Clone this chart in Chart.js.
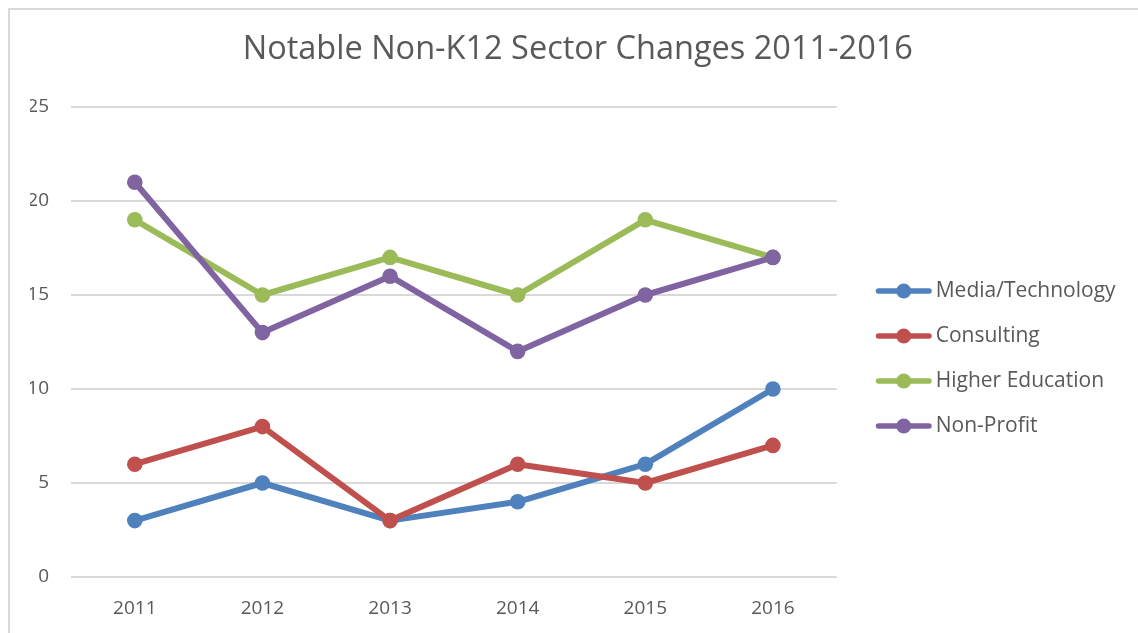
<!DOCTYPE html>
<html lang="en">
<head>
    <meta charset="UTF-8">
    <title>Notable Non-K12 Sector Changes 2011-2016</title>
    <script src="https://cdn.jsdelivr.net/npm/chart.js"></script>
    <style>
        html, body { margin: 0; padding: 0; background: #fff; }
        #frame { position: absolute; left: 8px; top: 8px; width: 1130px; height: 625px;
                 border-top: 2px solid #d9d9d9; border-left: 2px solid #d9d9d9; box-sizing: border-box; }
        #wrap { position: absolute; left: 0; top: 0; width: 1138px; height: 633px; }
    </style>
</head>
<body>
    <div id="frame"></div>
    <div id="wrap"><canvas id="grafico"></canvas></div>

    <script>
    // dados do gráfico
    const anos = ['2011', '2012', '2013', '2014', '2015', '2016'];
    const mediaTech = [3, 5, 3, 4, 6, 10];
    const consulting = [6, 8, 3, 6, 5, 7];
    const higherEd = [19, 15, 17, 15, 19, 17];
    const nonProfit = [21, 13, 16, 12, 15, 17];

    const nomes = ['Media/Technology', 'Consulting', 'Higher Education', 'Non-Profit'];
    const cores = ['#4f81bd', '#c0504d', '#9bbb59', '#8064a2'];
    const fonte = "'Open Sans', sans-serif";
    const corTexto = '#595959';

    // marcador da legenda: linha com bolinha no meio (deslocado p/ direita)
    function marcador(cor) {
        const c = document.createElement('canvas');
        c.width = 80; c.height = 18;
        const g = c.getContext('2d');
        g.strokeStyle = cor; g.lineWidth = 5.5; g.lineCap = 'round';
        g.beginPath(); g.moveTo(25.5, 9); g.lineTo(76, 9); g.stroke();
        g.fillStyle = cor;
        g.beginPath(); g.arc(50.75, 9, 7.5, 0, Math.PI * 2); g.fill();
        return c;
    }

    const series = [mediaTech, consulting, higherEd, nonProfit];
    const datasets = series.map((s, i) => ({
        label: nomes[i],
        data: s,
        borderColor: cores[i],
        backgroundColor: cores[i],
        borderWidth: 6,
        borderJoinStyle: 'round',
        borderCapStyle: 'round',
        pointRadius: 7.8,
        pointHoverRadius: 7.8,
        pointBorderWidth: 0,
        pointStyle: 'circle',
        order: 4 - i   // o último fica por cima, como no Excel
    }));

    const ctx = document.getElementById('grafico').getContext('2d');
    const chart = new Chart(ctx, {
        type: 'line',
        data: { labels: anos, datasets: datasets },
        options: {
            responsive: true,
            maintainAspectRatio: false,
            animation: false,
            layout: { padding: { top: 0, right: 12.4, bottom: 0, left: 30 } },
            plugins: {
                title: {
                    display: true,
                    text: 'Notable Non-K12 Sector Changes 2011-2016',
                    color: corTexto,
                    font: { family: fonte, size: 32.5, weight: 'normal' },
                    padding: { top: 30.5, bottom: 37.5 }
                },
                legend: {
                    position: 'right',
                    align: 'center',
                    maxWidth: 320,
                    title: { display: true, text: ' ', font: { size: 10 }, padding: { top: 72, bottom: 0 } },
                    labels: {
                        color: corTexto,
                        font: { family: fonte, size: 21 },
                        usePointStyle: true,
                        pointStyleWidth: 64.5,
                        padding: 24,
                        sort: (a, b) => a.datasetIndex - b.datasetIndex,
                        generateLabels: (ch) => ch.data.datasets.map((d, i) => ({
                            text: d.label,
                            fillStyle: d.borderColor,
                            strokeStyle: d.borderColor,
                            lineWidth: 0,
                            pointStyle: marcador(d.borderColor),
                            fontColor: corTexto,
                            datasetIndex: i,
                            hidden: false
                        }))
                    }
                },
                tooltip: { enabled: false }
            },
            scales: {
                x: {
                    offset: true,
                    grid: { display: false, drawTicks: false },
                    border: { display: false },
                    ticks: { color: corTexto, font: { family: fonte, size: 19 }, padding: 20 },
                    afterFit: (s) => { s.height = 56; }
                },
                y: {
                    min: 0, max: 25,
                    grid: { color: '#d9d9d9', lineWidth: 2, drawTicks: false },
                    border: { display: false },
                    ticks: { stepSize: 5, color: corTexto, font: { family: fonte, size: 19 }, padding: 22 },
                    afterFit: (s) => { s.width = 41; }
                }
            }
        }
    });
    </script>
</body>
</html>
